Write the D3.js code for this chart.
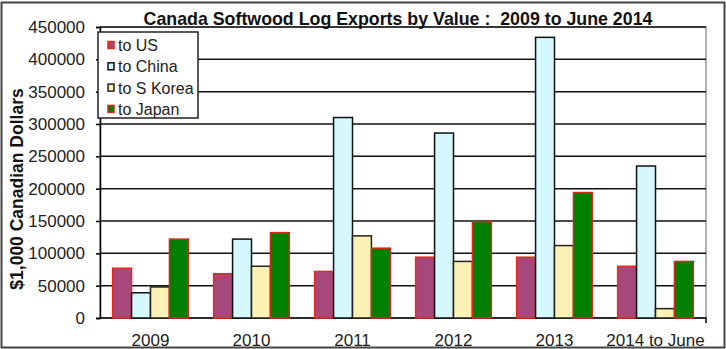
<!DOCTYPE html>
<html>
<head>
<meta charset="utf-8">
<script src="https://cdn.jsdelivr.net/npm/d3@7"></script>
<style>
  body { margin: 0; background: #fff; }
  svg { display: block; font-family: "Liberation Sans", Arial, sans-serif; }
</style>
</head>
<body>
<div id="chart"></div>
<script>
// data
const years = ["2009", "2010", "2011", "2012", "2013", "2014 to June"];
const seriesNames = ["to US", "to China", "to S Korea", "to Japan"];
const toUS = [77000, 68500, 72000, 94000, 94000, 80000];
const toChina = [39000, 122000, 310000, 286000, 434000, 235000];
const toKorea = [48000, 80000, 127000, 87500, 112000, 14500];
const toJapan = [122000, 132000, 108000, 149000, 194000, 87500];
const yTicks = [0, 50000, 100000, 150000, 200000, 250000, 300000, 350000, 400000, 450000];

const fills = ["#a6497a", "#d4f8fc", "#fdf2b6", "#008000"];
const strokes = ["#e8281c", "#111", "#222", "#d8281c"];

const width = 726, height = 349;
const margin = { top: 27, right: 20, bottom: 31, left: 100 };
const innerW = width - margin.left - margin.right;
const innerH = height - margin.top - margin.bottom;

const svg = d3.select("#chart").append("svg")
  .attr("width", width).attr("height", height);

const g = svg.append("g").attr("transform", `translate(${margin.left},${margin.top})`);

const x = d3.scaleBand().domain(years).range([0, innerW]).paddingInner(0.25).paddingOuter(0.125);
const xs = d3.scaleBand().domain(seriesNames).range([0, x.bandwidth()]);
const y = d3.scaleLinear().domain([0, 450000]).range([innerH, 0]);

// 绘图区边框
g.append("rect")
  .attr("x", 0).attr("y", 0).attr("width", innerW).attr("height", innerH)
  .attr("fill", "none").attr("stroke", "#999").attr("stroke-width", 1.5);

// gridlines
g.append("g").selectAll("line").data(yTicks.slice(1)).join("line")
  .attr("x1", 0).attr("x2", innerW)
  .attr("y1", d => y(d)).attr("y2", d => y(d))
  .attr("stroke", "#111").attr("stroke-width", 1.5);

// y axis
const yAxis = g.append("g")
  .call(d3.axisLeft(y).tickValues(yTicks).tickSize(4).tickPadding(11).tickFormat(d3.format("d")));
yAxis.select(".domain").attr("stroke", "#000").attr("stroke-width", 1.5);
yAxis.selectAll(".tick line").attr("stroke", "#000").attr("stroke-width", 1.5);
yAxis.selectAll("text").attr("font-size", 17).attr("fill", "#222")
  .attr("font-family", "'Liberation Sans', Arial, sans-serif");

// x axis
const xAxis = g.append("g").attr("transform", `translate(0,${innerH})`)
  .call(d3.axisBottom(x).tickSize(0).tickPadding(0));
xAxis.select(".domain").attr("stroke", "#000").attr("stroke-width", 1.5)
  .attr("d", `M0,0H${innerW}V5`);
xAxis.selectAll("text").attr("font-size", 17).attr("fill", "#222")
  .attr("dy", null).attr("y", 28)
  .attr("font-family", "'Liberation Sans', Arial, sans-serif");

// bars
const allSeries = [toUS, toChina, toKorea, toJapan];
const rows = years.map((yr, i) => ({
  year: yr,
  vals: seriesNames.map((s, k) => ({ key: s, k, value: allSeries[k][i] }))
}));

g.append("g").selectAll("g").data(rows).join("g")
  .attr("transform", d => `translate(${x(d.year)},0)`)
  .selectAll("rect").data(d => d.vals).join("rect")
  .attr("x", d => xs(d.key))
  .attr("y", d => y(d.value))
  .attr("width", xs.bandwidth())
  .attr("height", d => y(0) - y(d.value))
  .attr("fill", d => fills[d.k])
  .attr("stroke", d => strokes[d.k])
  .attr("stroke-width", 1.5);

// title
svg.append("text")
  .attr("x", 398).attr("y", 25)
  .attr("text-anchor", "middle")
  .style("white-space", "pre")
  .attr("font-size", 17.8).attr("font-weight", "bold").attr("fill", "#111")
  .text("Canada Softwood Log Exports by Value :  2009 to June 2014");

// y label
svg.append("text")
  .attr("transform", "translate(23,189) rotate(-90)")
  .attr("text-anchor", "middle")
  .attr("font-size", 17.5).attr("font-weight", "bold").attr("fill", "#111")
  .text("$1,000 Canadian Dollars");

// legend
const lg = svg.append("g").attr("transform", "translate(98,32)");
lg.append("rect").attr("width", 100).attr("height", 86)
  .attr("fill", "#fff").attr("stroke", "#222").attr("stroke-width", 1.5);
const li = lg.selectAll("g").data(seriesNames).join("g")
  .attr("transform", (d, i) => `translate(0,${13 + i * 21.3})`);
li.append("rect").attr("x", 10).attr("y", -3.5).attr("width", 6).attr("height", 7)
  .attr("fill", (d, i) => fills[i]).attr("stroke", (d, i) => strokes[i]).attr("stroke-width", 1.5);
li.append("text").attr("x", 20).attr("y", 6)
  .attr("font-size", 16).attr("fill", "#222").text(d => d);

// outer frame
svg.append("rect")
  .attr("x", 1.5).attr("y", 2.5)
  .attr("width", width - 3).attr("height", height - 4)
  .attr("fill", "none").attr("stroke", "#444").attr("stroke-width", 2);
</script>
</body>
</html>
